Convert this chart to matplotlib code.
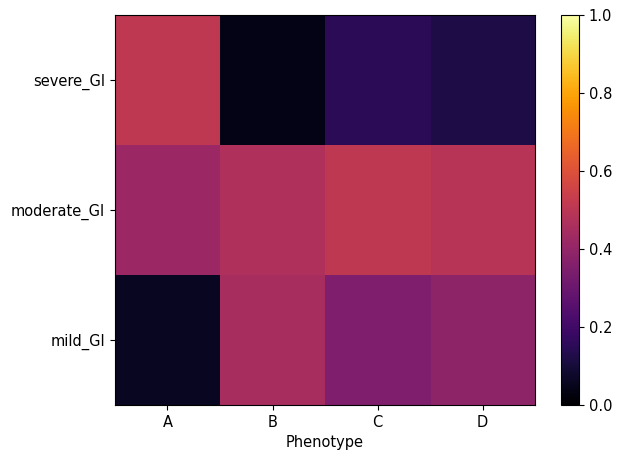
import matplotlib
matplotlib.use("Agg")
import matplotlib.pyplot as plt
import numpy as np

plt.rcParams["font.size"] = 10.5

phenotypes = ["A", "B", "C", "D"]
severity = ["severe_GI", "moderate_GI", "mild_GI"]
severe_vals = [0.51, 0.04, 0.15, 0.12]
moderate_vals = [0.42, 0.47, 0.51, 0.49]
mild_vals = [0.06, 0.45, 0.35, 0.39]

data = np.array([severe_vals, moderate_vals, mild_vals])

fig = plt.figure(figsize=(6.18, 4.55), dpi=100)
ax = fig.add_axes([0.186, 0.110, 0.680, 0.857])
cax = fig.add_axes([0.908, 0.110, 0.029, 0.857])
im = ax.imshow(data, cmap="inferno", vmin=0, vmax=1, aspect="auto")
ax.set_xticks(range(len(phenotypes)))
ax.set_xticklabels(phenotypes)
ax.set_yticks(range(len(severity)))
ax.set_yticklabels(severity)
ax.set_xlabel("Phenotype")
fig.colorbar(im, cax=cax)
fig.savefig("out.png", dpi=100)
